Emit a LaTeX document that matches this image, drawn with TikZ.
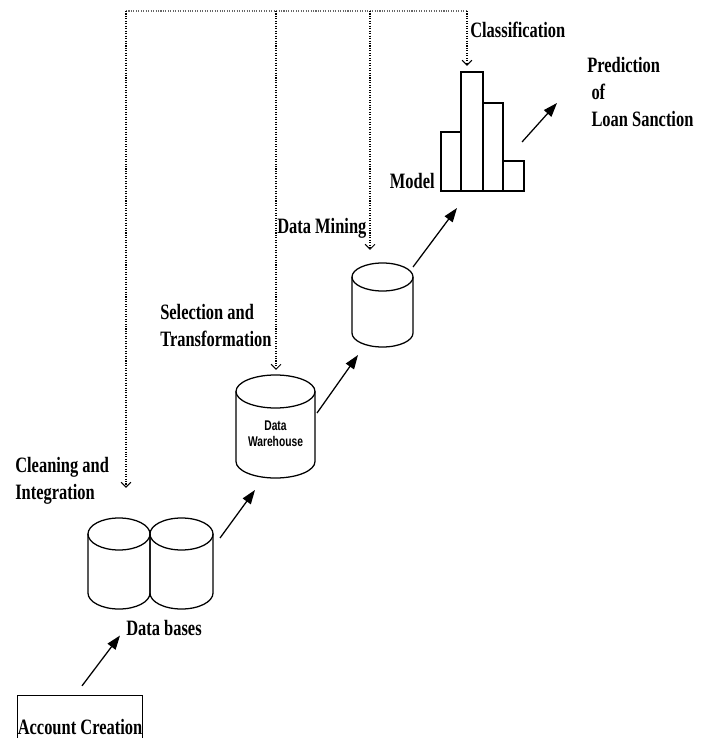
\documentclass[tikz,border=0pt]{standalone}
\usepackage{fontspec}
\setmainfont{Liberation Serif}[FakeStretch=0.75]
\newfontfamily\whfont{Liberation Sans}[FakeStretch=0.73]
\usetikzlibrary{arrows.meta,calc}

% name, centre, half width, half height, cap radius (cm)
\newcommand\store[5]{%
  \node[minimum width=2*#3cm, minimum height=2*#4cm, inner sep=0pt, outer sep=0pt] (#1) at #2 {};
  \draw[line width=0.9pt] (#1.center) ++(-#3cm,#4cm-#5cm) -- ++(0,-2*#4cm+2*#5cm)
    arc[start angle=180, end angle=360, x radius=#3cm, y radius=#5cm] -- ++(0,2*#4cm-2*#5cm);
  \draw[line width=0.9pt] (#1.center) ++(0,#4cm-#5cm) ellipse[x radius=#3cm, y radius=#5cm];
}

\begin{document}
\begin{tikzpicture}[x=0.025cm, y=-0.025cm,
    lbl/.style={font=\fontsize{15.6}{19.2}\selectfont\bfseries, inner sep=0pt, align=left},
    bar/.style={draw, line width=0.9pt, inner sep=0pt, outer sep=0pt, anchor=south west},
    flow/.style={-{Triangle[length=10pt,width=7pt]}, line width=0.9pt},
    feed/.style={densely dotted, line width=0.75pt, -{Straight Barb[length=3.5pt,width=7pt]}}]
  \useasboundingbox (0,0) rectangle (707,738);

  % data stores
  \store{dbl}{(119,563.5)}{0.775}{1.1375}{0.4}
  \store{dbr}{(181.5,563.5)}{0.7875}{1.1375}{0.4}
  \store{dw}{(275.5,426.5)}{0.9875}{1.2875}{0.4125}
  \node[font=\whfont\bfseries\fontsize{10}{11.4}\selectfont, align=center, inner sep=0pt] (dwtext) at ($(dw.center)+(0,7)$) {Data\\Warehouse};
  \store{dm}{(382.5,305)}{0.7625}{1.05}{0.35}

  % model
  \node[bar, minimum width=0.5cm, minimum height=1.475cm] (m1) at (441,191) {};
  \node[bar, minimum width=0.55cm, minimum height=2.975cm] (m2) at (m1.south east) {};
  \node[bar, minimum width=0.5cm, minimum height=2.2cm] (m3) at (m2.south east) {};
  \node[bar, minimum width=0.525cm, minimum height=0.75cm] (m4) at (m3.south east) {};

  % labels
  \node[lbl, draw, line width=0.9pt, minimum width=3.1cm, minimum height=1.6cm] (acc) at (80,727.5) {Account Creation};
  \node[lbl, anchor=base west] (dbs) at (126,635) {Data bases};
  \node[lbl, anchor=north west] (clean) at (15,457) {Cleaning and\\Integration};
  \node[lbl, anchor=north west] (sel) at (160,304) {Selection and\\Transformation};
  \node[lbl, anchor=base west] (mine) at (277,233) {Data Mining};
  \node[lbl, anchor=base east] (model) at (435,188) {Model};
  \node[lbl, anchor=base west] (cls) at (470,37) {Classification};
  \node[lbl, anchor=north west] (pred) at (587,57) {Prediction\\\hspace{3pt}of\\\hspace{3pt}Loan Sanction};

  % main flow
  \draw[flow] ($(acc.north)+(2,-9)$) -- ($(dbs.south west)+(-6,0)$);
  \draw[flow] ($(dbr.east)+(7,-25.5)$) -- ($(dw.south)+(-20.5,12)$);
  \draw[flow] ($(dw.east)+(2,-13.5)$) -- ($(dm.south)+(-24.5,8)$);
  \draw[flow] ($(dm.east)+(0,-38)$) -- ($(m1.south east)+(-4,17)$);
  \draw[flow] ($(m4.north east)+(-2,-19)$) -- ($(pred.north west)+(-30,46)$);

  % feedback
  \coordinate (f1) at (126,11);
  \coordinate (f2) at (276,11);
  \coordinate (f3) at (370,11);
  \coordinate (f4) at (467,11);
  \draw[densely dotted, line width=0.75pt, black!60] (f1) -- (f4);
  \draw[feed, shorten >=0.75cm] (f1) -- (f1 |- dbl.north);
  \draw[feed, shorten >=0.125cm] (f2) -- (f2 |- dw.north);
  \draw[feed, shorten >=0.325cm] (f3) -- (f3 |- dm.north);
  \draw[feed, shorten >=0.15cm] (f4) -- (f4 |- m2.north);
\end{tikzpicture}
\end{document}
